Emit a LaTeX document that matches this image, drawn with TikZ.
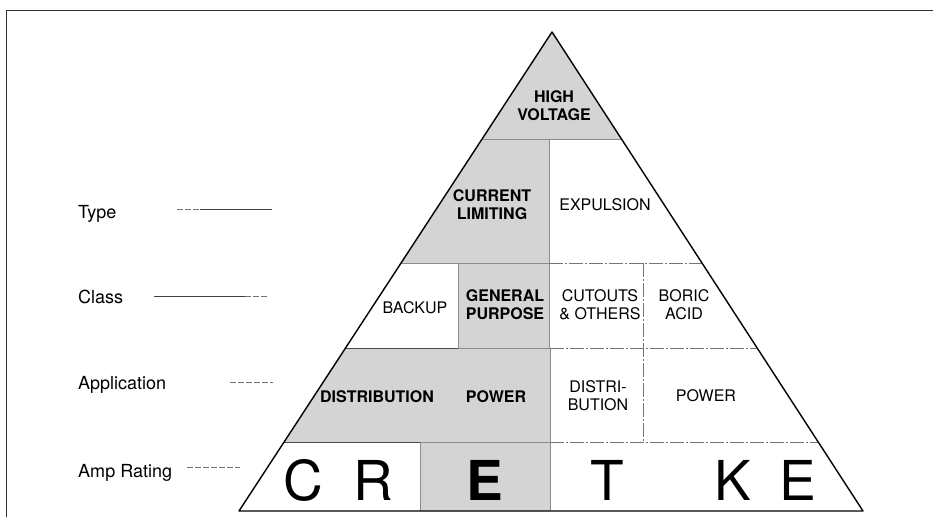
\documentclass[tikz,border=0pt]{standalone}
\usepackage{fontspec}
\setmainfont{TeX Gyre Heros}
\usepackage{tikz}

\tikzset{
  shadecell/.style={fill=black!17, draw=black!45, line width=0.4pt},
  divline/.style={draw=black!55, line width=0.5pt, dash pattern=on 14pt off 2pt on 2pt off 2pt},
  celltext/.style={font=\fontsize{16}{18}\selectfont, align=center, inner sep=0pt},
  boldtext/.style={celltext, font=\fontsize{16}{18}\selectfont\bfseries},
  sidelabel/.style={font=\fontsize{18}{20}\selectfont, anchor=base west, inner sep=0pt},
  ratingletter/.style={font=\fontsize{55}{55}\selectfont, anchor=base, inner sep=0pt},
  leader/.style={black!75, line width=0.6pt},
  leaderdash/.style={black!55, line width=0.6pt, dash pattern=on 6pt off 2pt}
}

\begin{document}
\begin{tikzpicture}[x=1pt, y=-1pt]
        \useasboundingbox (0,0) rectangle (933,517);
        \coordinate (apex) at (552,32);
        \coordinate (bl) at (239,511);
        \coordinate (br) at (863,511);

        \begin{scope}
            \clip (apex) -- (bl) -- (br) -- cycle;
            \path[shadecell] (200,20) rectangle (900,139);
            \path[shadecell] (200,139) rectangle (549,263);
            \path[shadecell] (458,263) rectangle (549,348);
            \path[shadecell] (200,348) rectangle (550,442);
            \path[shadecell] (420,442) rectangle (550,511);
            \draw[black!70, line width=0.5pt] (200,348) -- (458,348);
            \draw[black!70, line width=0.5pt] (200,442) -- (420,442);
            \draw[divline] (549,263) -- (900,263);
            \draw[divline] (550,348) -- (900,348);
            \draw[divline] (550,442) -- (900,442);
            \draw[divline] (643,263) -- (643,442);
        \end{scope}

        \draw[line width=1.4pt, line join=round] (apex) -- (bl) -- (br) -- cycle;
        \draw[black!80, line width=1pt] (6,517) -- (6,10) -- (933,10);

        \node[boldtext] (hv) at (554,106) {HIGH\\VOLTAGE};
        \node[boldtext] (cl) at (492,205) {CURRENT\\LIMITING};
        \node[celltext] (ex) at (605,205) {EXPULSION};
        \node[celltext] (bk) at (415,308) {BACKUP};
        \node[boldtext] (gp) at (505,305) {GENERAL\\PURPOSE};
        \node[celltext] (co) at (600,305) {CUTOUTS\\\& OTHERS};
        \node[celltext] (ba) at (684,305) {BORIC\\ACID};
        \node[boldtext] (distb) at (377,397) {DISTRIBUTION};
        \node[boldtext] (powb) at (496,397) {POWER};
        \node[celltext] (dist) at (598,396) {DISTRI-\\BUTION};
        \node[celltext] (pow) at (706,396) {POWER};

        \node[ratingletter] (rc) at (303,500) {C};
        \node[ratingletter] (rr) at (373,500) {R};
        \node[ratingletter, font=\fontsize{55}{55}\selectfont\bfseries] (re) at (485,500) {E};
        \node[ratingletter] (rt) at (607,500) {T};
        \node[ratingletter] (rk) at (733,500) {K};
        \node[ratingletter] (re2) at (798,500) {E};

        \node[sidelabel] (type) at (78,218) {Type};
        \node[sidelabel] (class) at (78,303) {Class};
        \node[sidelabel] (appl) at (78,389) {Application};
        \node[sidelabel] (amp) at (78,477) {Amp Rating};

        \coordinate (type1) at (177,209);
        \coordinate (type2) at (200,209);
        \coordinate (type3) at (272,209);
        \coordinate (class1) at (154,296);
        \coordinate (class2) at (245,296);
        \coordinate (class3) at (267,296);
        \coordinate (appl1) at (230,382);
        \coordinate (appl2) at (273,382);
        \coordinate (amp1) at (187,467);
        \coordinate (amp2) at (240,467);
        \draw[leaderdash] (type1) -- (type2);
        \draw[leader] (type2) -- (type3);
        \draw[leader] (class1) -- (class2);
        \draw[leaderdash] (class2) -- (class3);
        \draw[leaderdash] (appl1) -- (appl2);
        \draw[leaderdash] (amp1) -- (amp2);
\end{tikzpicture}
\end{document}
